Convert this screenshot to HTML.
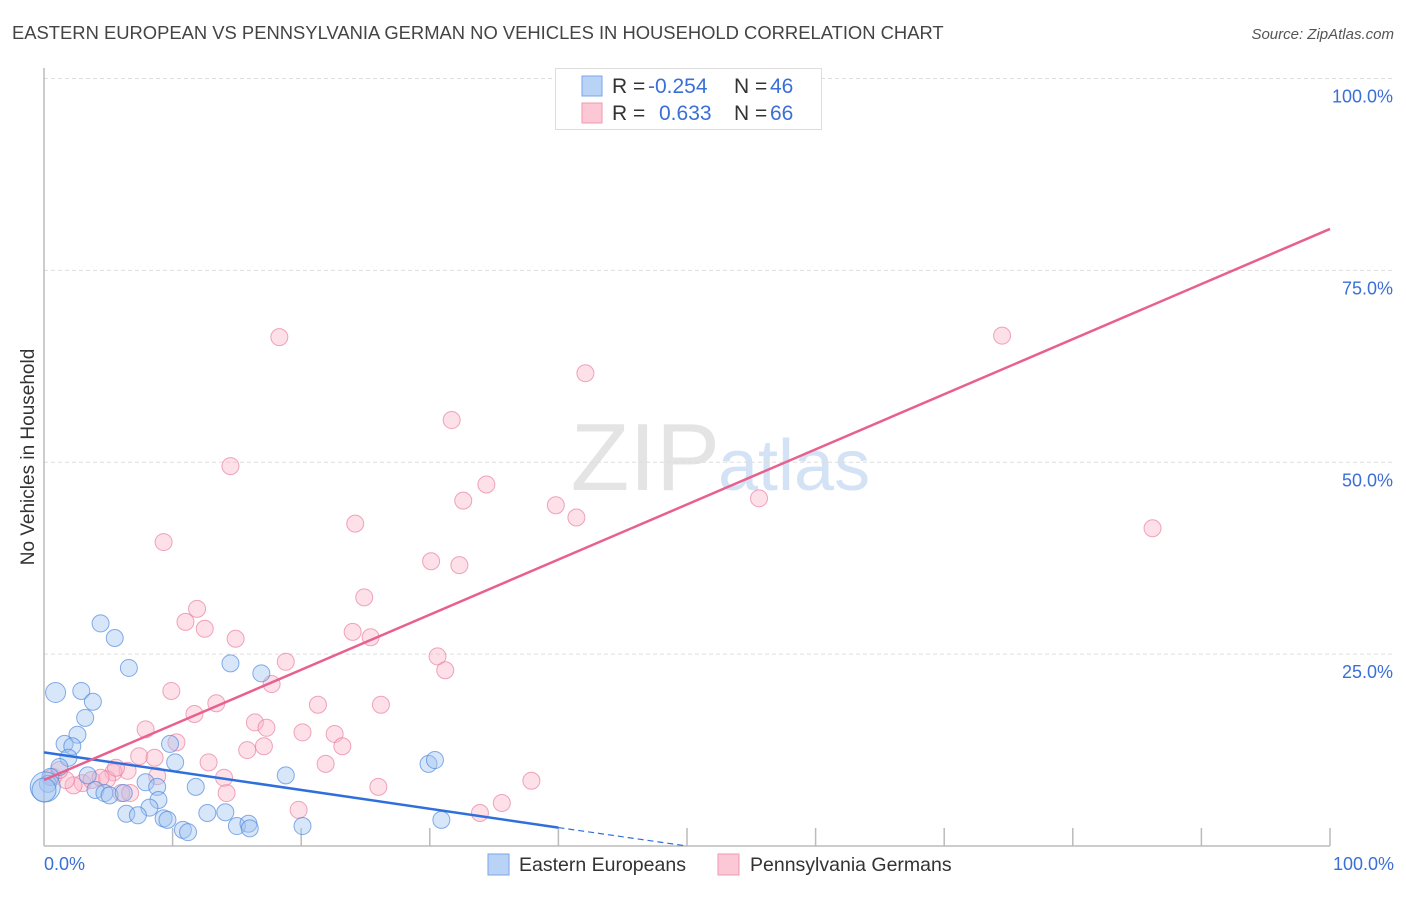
<!DOCTYPE html>
<html><head><meta charset="utf-8"><style>
body{margin:0;background:#fff;font-family:"Liberation Sans",sans-serif;}
svg text{font-family:"Liberation Sans",sans-serif;}
</style></head><body>
<svg width="1406" height="892">
<text x="12" y="39" font-size="18.4" fill="#444">EASTERN EUROPEAN VS PENNSYLVANIA GERMAN NO VEHICLES IN HOUSEHOLD CORRELATION CHART</text>
<text x="1394" y="39" font-size="15" fill="#555" font-style="italic" text-anchor="end">Source: ZipAtlas.com</text>
<text x="720" y="490" font-size="96" fill="#e4e4e4" font-family="Liberation Serif" text-anchor="end">ZIP</text>
<text x="718" y="490" font-size="72" fill="#d4e2f5">atlas</text>
<g id="grid"></g>
<line x1="44" y1="68" x2="44" y2="846" stroke="#bbb" stroke-width="1.5"/>
<line x1="44" y1="846" x2="1330" y2="846" stroke="#bbb" stroke-width="1.5"/>
<text transform="translate(34,457) rotate(-90)" font-size="19" fill="#333" text-anchor="middle">No Vehicles in Household</text>
<text x="44" y="870" font-size="18" fill="#3a6fd8">0.0%</text>
<text x="1394" y="870" font-size="18" fill="#3a6fd8" text-anchor="end">100.0%</text>
<g id="pts"></g>
<g id="lines"></g>
<g>
<rect x="555.5" y="68.5" width="266" height="61" fill="#fff" stroke="#ddd"/>
<rect x="582" y="76" width="20" height="20" fill="#b9d3f6" stroke="#7aa6e8"/>
<rect x="582" y="103" width="20" height="20" fill="#fcc8d6" stroke="#ee9ab2"/>
<text x="612" y="93" font-size="21" fill="#333">R = </text><text x="648" y="93" font-size="21" fill="#3a6fd8">-0.254</text>
<text x="734" y="93" font-size="21" fill="#333">N = </text><text x="770" y="93" font-size="21" fill="#3a6fd8">46</text>
<text x="612" y="120" font-size="21" fill="#333">R = </text><text x="659" y="120" font-size="21" fill="#3a6fd8">0.633</text>
<text x="734" y="120" font-size="21" fill="#333">N = </text><text x="770" y="120" font-size="21" fill="#3a6fd8">66</text>
</g>
<g>
<rect x="488" y="854" width="21" height="21" fill="#b9d3f6" stroke="#7aa6e8"/>
<text x="519" y="871" font-size="19.5" fill="#333">Eastern Europeans</text>
<rect x="718" y="854" width="21" height="21" fill="#fcc8d6" stroke="#ee9ab2"/>
<text x="750" y="871" font-size="19.5" fill="#333">Pennsylvania Germans</text>
</g>
</svg>
<script>
const yTicks=[25,50,75,100];
const xTicks=[10,20,30,40,50,60,70,80,90,100];
const blueX=[0.9,2.9,3.8,3.2,2.6,1.6,2.2,1.9,1.2,0.5,0.3,3.4,4.0,4.7,5.1,6.2,4.4,5.5,6.6,9.8,10.2,7.9,8.8,8.9,8.2,6.4,7.3,9.3,9.6,10.8,11.2,11.8,12.7,14.1,15.0,15.9,16.0,14.5,16.9,18.8,20.1,29.9,30.4,30.9,0.1,0.0];
const blueY=[20.0,20.2,18.8,16.7,14.5,13.3,13.0,11.5,10.3,9.0,8.1,9.2,7.3,6.9,6.6,6.9,29.0,27.1,23.2,13.3,10.9,8.3,7.7,6.0,5.0,4.2,4.0,3.6,3.4,2.1,1.8,7.7,4.3,4.4,2.6,2.9,2.3,23.8,22.5,9.2,2.6,10.7,11.2,3.4,7.7,7.3];
const blueR=[10,8.5,8.5,8.5,8.5,8.5,8.5,8.5,8.5,8.5,8.5,8.5,8.5,8.5,8.5,8.5,8.5,8.5,8.5,8.5,8.5,8.5,8.5,8.5,8.5,8.5,8.5,8.5,8.5,8.5,8.5,8.5,8.5,8.5,8.5,8.5,8.5,8.5,8.5,8.5,8.5,8.5,8.5,8.5,15,12];
const pinkX=[18.3,14.5,9.3,11.9,11.0,12.5,14.9,18.8,17.7,9.9,13.4,11.7,7.9,10.3,7.4,8.6,12.8,16.4,17.3,17.1,15.8,20.1,21.3,22.6,23.2,21.9,19.8,14.2,8.8,6.5,5.4,4.9,3.0,2.3,1.7,0.7,3.7,6.0,42.1,31.7,24.2,32.6,34.4,39.8,41.4,30.1,32.3,24.9,24.0,25.4,30.6,31.2,26.2,26.0,37.9,35.6,33.9,55.6,74.5,86.2,54.1,1.2,4.4,14.0,5.6,6.7];
const pinkY=[66.3,49.5,39.6,30.9,29.2,28.3,27.0,24.0,21.1,20.2,18.6,17.2,15.2,13.5,11.7,11.5,10.9,16.1,15.4,13.0,12.5,14.8,18.4,14.6,13.0,10.7,4.7,6.9,9.1,9.8,9.6,8.7,8.2,7.9,8.6,9.0,8.6,6.9,61.6,55.5,42.0,45.0,47.1,44.4,42.8,37.1,36.6,32.4,27.9,27.2,24.7,22.9,18.4,7.7,8.5,5.6,4.3,45.3,66.5,41.4,99.6,9.9,8.9,8.9,10.2,6.9];
const blueTrend=[12.2,2.4];
const pinkTrend=[8.6,80.4];
const X0=44,X1=1330,Y0=846,Y100=78.5;
const sx=v=>X0+(X1-X0)*v/100, sy=v=>Y0-(Y0-Y100)*v/100;
const NS='http://www.w3.org/2000/svg';
function mk(t,a,p){const e=document.createElementNS(NS,t);for(const k in a)e.setAttribute(k,a[k]);p.appendChild(e);return e;}
const grid=document.getElementById('grid');
yTicks.forEach(v=>{
 const l=mk('line',{x1:44,x2:1394,y1:sy(v),y2:sy(v),stroke:'#ddd','stroke-dasharray':'4,3'},grid);
 
 
 const t=mk('text',{x:1393,y:sy(v)+24,'font-size':18,fill:'#3a6fd8','text-anchor':'end'},grid);
 t.textContent=v.toFixed(1)+'%';
 
 
});
xTicks.forEach(v=>{
 const l=mk('line',{x1:sx(v),x2:sx(v),y1:828,y2:846,stroke:'#bbb','stroke-width':1.5},grid);
 
 
});
const pts=document.getElementById('pts');
pinkX.forEach((x,i)=>{
 const c=mk('circle',{cx:sx(x),cy:sy(pinkY[i]),r:8.5,fill:'rgba(250,180,200,0.42)',stroke:'rgba(232,120,155,0.65)','stroke-width':1},pts);
 
 
});
blueX.forEach((x,i)=>{
 const c=mk('circle',{cx:sx(x),cy:sy(blueY[i]),r:blueR[i],fill:'rgba(160,195,240,0.42)',stroke:'rgba(70,130,220,0.65)','stroke-width':1},pts);
 
 
});
const ln=document.getElementById('lines');
const bx=40, bEnd=50;
const byAt=x=>blueTrend[0]+(blueTrend[1]-blueTrend[0])*x/bx;
let l1=mk('line',{x1:sx(0),y1:sy(byAt(0)),x2:sx(bx),y2:sy(byAt(bx)),stroke:'#2f6fdc','stroke-width':2.5},ln);


let l2=mk('line',{x1:sx(bx),y1:sy(byAt(bx)),x2:sx(bEnd),y2:sy(Math.max(0,byAt(bEnd))),stroke:'#2f6fdc','stroke-width':1.2,'stroke-dasharray':'6,4'},ln);


let l3=mk('line',{x1:sx(0),y1:sy(pinkTrend[0]),x2:sx(100),y2:sy(pinkTrend[1]),stroke:'#e8608e','stroke-width':2.5},ln);


</script>
</body></html>
